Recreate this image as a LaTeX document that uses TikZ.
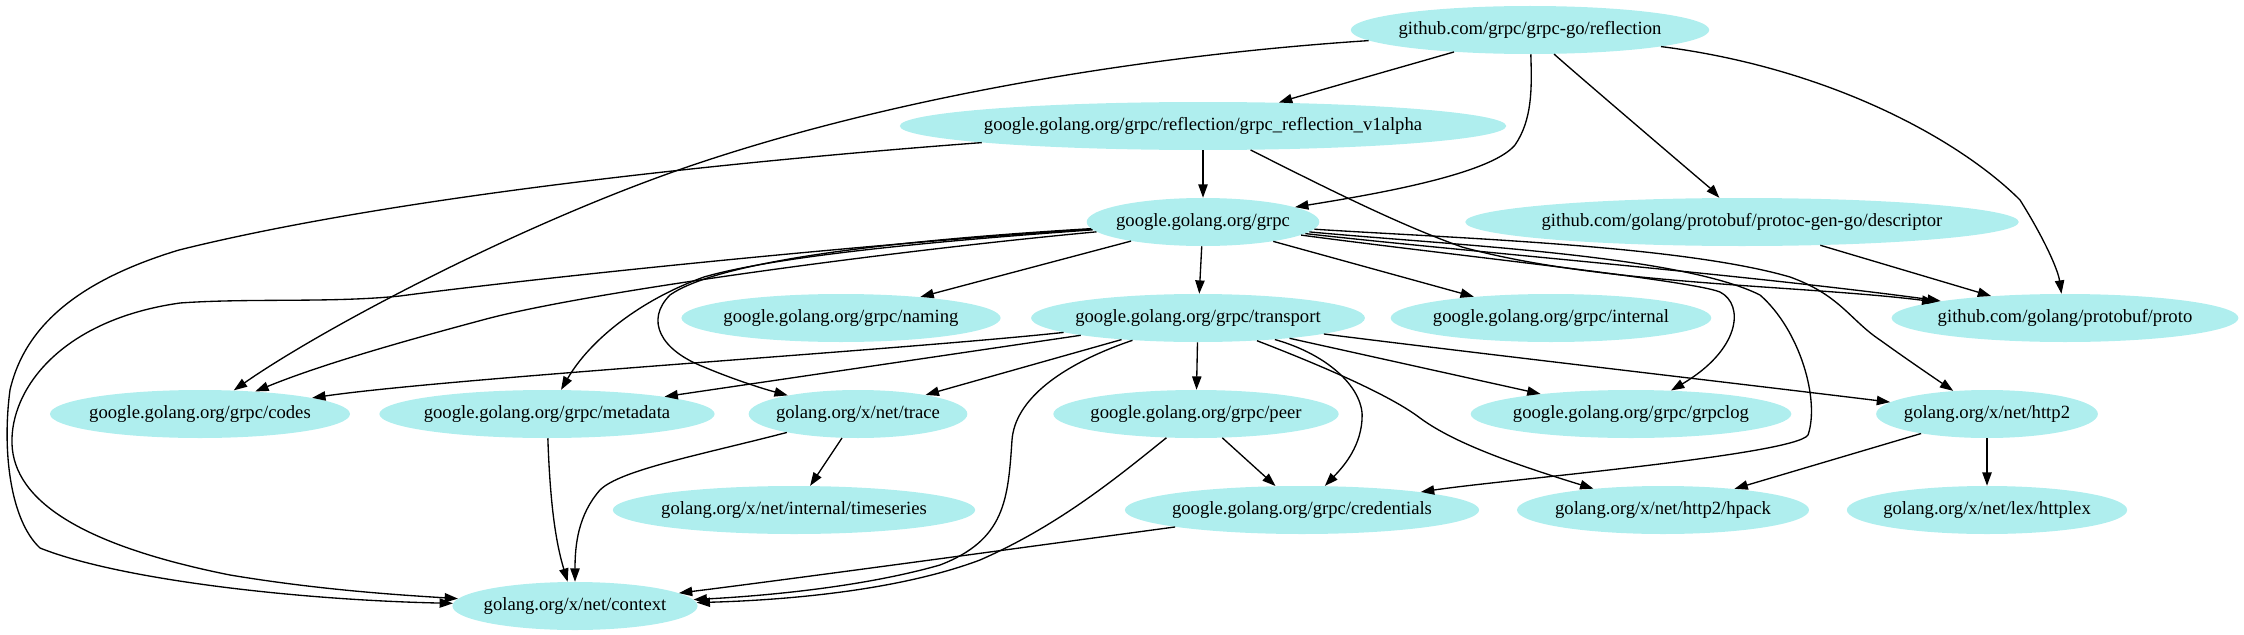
\documentclass[tikz,border=0pt]{standalone}
\usepackage{fontspec}
\setmainfont{Liberation Serif}
\usetikzlibrary{shapes.geometric, arrows.meta}
\definecolor{paleturq}{HTML}{AFEEEE}
\tikzset{
    pkg/.style={ellipse, fill=paleturq, inner xsep=-3.5pt, inner ysep=0pt, minimum height=36pt, font=\fontsize{14}{16}\selectfont},
    dep/.style={->, >={Triangle[length=10pt,width=7pt]}, line width=1pt}
}
\begin{document}
\begin{tikzpicture}[x=0.75pt, y=-0.75pt]
    \useasboundingbox (0,0) rectangle (2244,635);
    % packages
    \node[pkg] (refl) at (1530,30) {github.com/grpc/grpc-go/reflection};
    \node[pkg] (v1a) at (1203,126) {google.golang.org/grpc/reflection/grpc\_reflection\_v1alpha};
    \node[pkg] (grpc) at (1203,222) {google.golang.org/grpc};
    \node[pkg] (desc) at (1742,222) {github.com/golang/protobuf/protoc-gen-go/descriptor};
    \node[pkg] (naming) at (841,318) {google.golang.org/grpc/naming};
    \node[pkg] (transport) at (1198,318) {google.golang.org/grpc/transport};
    \node[pkg] (internal) at (1551,318) {google.golang.org/grpc/internal};
    \node[pkg] (proto) at (2065,318) {github.com/golang/protobuf/proto};
    \node[pkg] (codes) at (200,414) {google.golang.org/grpc/codes};
    \node[pkg] (metadata) at (547,414) {google.golang.org/grpc/metadata};
    \node[pkg] (trace) at (858,414) {golang.org/x/net/trace};
    \node[pkg] (peer) at (1196,414) {google.golang.org/grpc/peer};
    \node[pkg] (grpclog) at (1631,414) {google.golang.org/grpc/grpclog};
    \node[pkg] (http2) at (1987,414) {golang.org/x/net/http2};
    \node[pkg] (timeseries) at (794,510) {golang.org/x/net/internal/timeseries};
    \node[pkg] (creds) at (1302,510) {google.golang.org/grpc/credentials};
    \node[pkg] (hpack) at (1663,510) {golang.org/x/net/http2/hpack};
    \node[pkg] (httplex) at (1987,510) {golang.org/x/net/lex/httplex};
    \node[pkg] (context) at (575,606) {golang.org/x/net/context};

    % reflection
    \draw[dep] (refl) .. controls (1440,56) and (1300,96) .. (v1a);
    \draw[dep] (refl) .. controls (1532,90) and (1532,120) .. (1515,145) .. controls (1490,175) and (1370,195) .. (grpc);
    \draw[dep] (refl) .. controls (1560,60) and (1712,190) .. (desc);
    \draw[dep] (refl) .. controls (1830,68) and (1960,140) .. (2020,200) .. controls (2045,240) and (2058,270) .. (proto);
    \draw[dep] (refl) .. controls (1150,55) and (900,95) .. (693,165) .. controls (519,224) and (320,330) .. (codes);
    % grpc_reflection_v1alpha
    \draw[dep] (v1a) -- (grpc);
    \draw[dep] (v1a) .. controls (750,160) and (400,195) .. (179,250) .. controls (80,280) and (25,325) .. (10,390)
        .. controls (2,450) and (10,520) .. (40,548) .. controls (120,580) and (300,600) .. (context);
    \draw[dep] (v1a) .. controls (1330,190) and (1400,225) .. (1462,247) .. controls (1600,285) and (1800,285) .. (proto);
    % grpc
    \draw[dep] (grpc) -- (naming);
    \draw[dep] (grpc) -- (transport);
    \draw[dep] (grpc) -- (internal);
    \draw[dep] (grpc) .. controls (1450,250) and (1750,275) .. (proto);
    \draw[dep] (grpc) .. controls (1450,255) and (1690,280) .. (1720,292) .. controls (1745,305) and (1740,350) .. (grpclog);
    \draw[dep] (grpc) .. controls (1450,245) and (1680,255) .. (1760,295) .. controls (1800,330) and (1820,400) .. (1808,435)
        .. controls (1795,455) and (1500,480) .. (creds);
    \draw[dep] (grpc) .. controls (1450,238) and (1680,245) .. (1790,277) .. controls (1840,295) and (1850,320) .. (1880,340)
        .. controls (1905,358) and (1930,375) .. (http2);
    \draw[dep] (grpc) .. controls (900,250) and (600,290) .. (490,318) .. controls (400,342) and (320,365) .. (codes);
    \draw[dep] (grpc) .. controls (950,240) and (780,255) .. (704,277) .. controls (640,300) and (590,340) .. (metadata);
    \draw[dep] (grpc) .. controls (900,240) and (720,260) .. (670,295) .. controls (645,320) and (660,350) .. (704,367)
        .. controls (730,378) and (760,388) .. (trace);
    \draw[dep] (grpc) .. controls (850,245) and (520,280) .. (400,296) .. controls (330,303) and (250,298) .. (180,303)
        .. controls (60,320) and (10,390) .. (12,444) .. controls (14,500) and (80,545) .. (230,575)
        .. controls (320,590) and (400,595) .. (context);
    \draw[dep] (desc) -- (proto);
    % transport
    \draw[dep] (transport) .. controls (900,350) and (450,378) .. (codes);
    \draw[dep] (transport) -- (metadata);
    \draw[dep] (transport) -- (trace);
    \draw[dep] (transport) .. controls (1060,365) and (1015,400) .. (1012,440) .. controls (1008,500) and (1005,540) .. (940,565)
        .. controls (870,585) and (780,595) .. (context);
    \draw[dep] (transport) -- (peer);
    \draw[dep] (transport) .. controls (1330,355) and (1365,390) .. (1362,420) .. controls (1360,450) and (1340,470) .. (creds);
    \draw[dep] (transport) .. controls (1320,365) and (1390,395) .. (1420,418) .. controls (1450,440) and (1500,460) .. (hpack);
    \draw[dep] (transport) -- (grpclog);
    \draw[dep] (transport) .. controls (1450,350) and (1750,385) .. (http2);
    % the rest
    \draw[dep] (metadata) .. controls (550,500) and (555,540) .. (context);
    \draw[dep] (trace) .. controls (700,455) and (620,470) .. (600,490) .. controls (578,515) and (575,545) .. (context);
    \draw[dep] (trace) -- (timeseries);
    \draw[dep] (peer) -- (creds);
    \draw[dep] (peer) .. controls (1120,475) and (1060,525) .. (980,560) .. controls (900,590) and (790,600) .. (context);
    \draw[dep] (creds) .. controls (1100,537) and (800,578) .. (context);
    \draw[dep] (http2) -- (hpack);
    \draw[dep] (http2) -- (httplex);
\end{tikzpicture}
\end{document}
